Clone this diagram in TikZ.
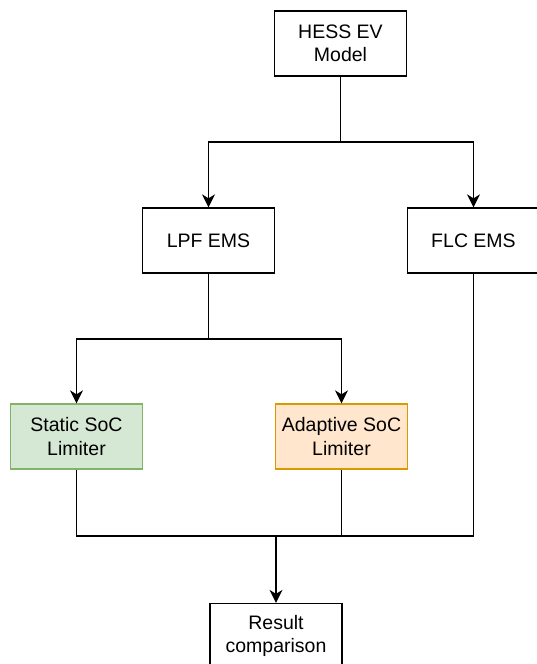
\documentclass[tikz,border=0pt]{standalone}
\usepackage{fontspec}
\setmainfont{Liberation Sans}
\usetikzlibrary{arrows.meta}
\definecolor{gfill}{HTML}{D5E8D4}
\definecolor{gline}{HTML}{82B366}
\definecolor{ofill}{HTML}{FFE6CC}
\definecolor{oline}{HTML}{D79B00}
\begin{document}
\begin{tikzpicture}[x=1pt,y=-1pt,
  box/.style={draw, line width=1.3pt, minimum width=132pt, minimum height=65pt, align=center,
    font=\fontsize{19.5}{23.5}\selectfont, inner sep=0pt},
  conn/.style={line width=1.3pt},
  arr/.style={conn, -{Stealth[length=13pt,width=13pt,inset=4pt]}}]
\useasboundingbox (0,0) rectangle (536,664);
\node[box] (hess) at (340.5,43.5) {HESS EV\\Model};
\node[box] (lpf) at (208.5,240.5) {LPF EMS};
\node[box] (flc) at (473.5,240.5) {FLC EMS};
\node[box, fill=gfill, draw=gline] (static) at (76.5,436.5) {Static SoC\\Limiter};
\node[box, fill=ofill, draw=oline] (adapt) at (341.5,436.5) {Adaptive SoC\\Limiter};
\node[box] (result) at (276,636) {Result\\comparison};
\coordinate (j1) at (340.5,142);
\coordinate (j2) at (208.5,339);
\coordinate (j3) at (276,536);
\draw[conn] (hess.south) -- (j1);
\draw[arr] (j1) -| (lpf.north);
\draw[arr] (j1) -| (flc.north);
\draw[conn] (lpf.south) -- (j2);
\draw[arr] (j2) -| (static.north);
\draw[arr] (j2) -| (adapt.north);
\draw[conn] (static.south) |- (j3);
\draw[conn] (flc.south) |- (j3);
\draw[conn] (adapt.south) -- (adapt.south |- j3);
\draw[arr] (j3) -- (result.north);
\end{tikzpicture}
\end{document}
